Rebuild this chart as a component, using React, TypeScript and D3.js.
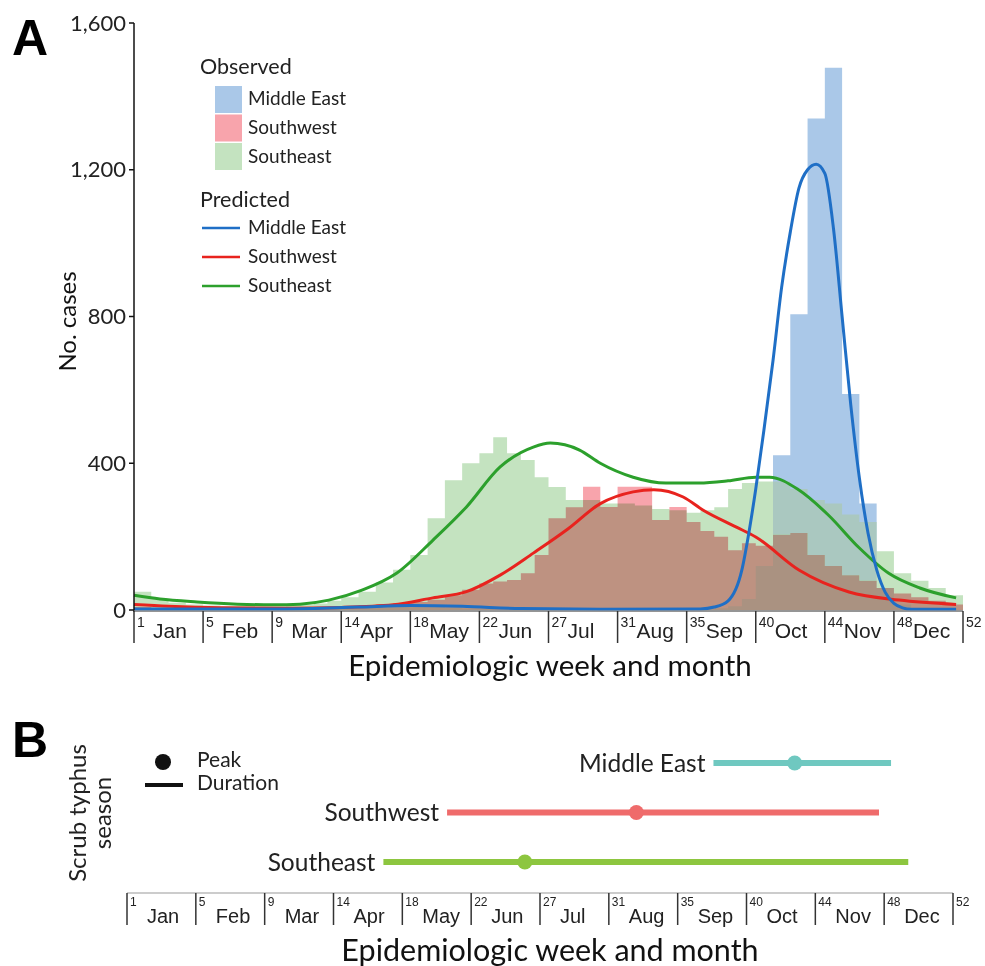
import { useEffect, useRef } from 'react';
import * as d3 from 'd3';

// month start weeks used as ticks (evenly spaced on the axis)
const monthWeeks = [1, 5, 9, 14, 18, 22, 27, 31, 35, 40, 44, 48, 52];
const monthNames = ['Jan', 'Feb', 'Mar', 'Apr', 'May', 'Jun', 'Jul', 'Aug', 'Sep', 'Oct', 'Nov', 'Dec'];
const yTicks = [0, 400, 800, 1200, 1600];
const regions = ['Middle East', 'Southwest', 'Southeast'];

// observed weekly cases, weeks 1..51
const obsMiddleEast = [
    2, 2, 2, 2, 2, 2, 2, 2, 2, 2, 3, 3, 4, 5, 6, 8, 9, 9, 8, 6, 4, 3, 2, 2, 2,
    2, 2, 2, 2, 2, 2, 2, 2, 3, 3, 4, 5, 10, 30, 120, 422, 806, 1340, 1478, 589,
    290, 60, 15, 5, 2, 1,
];
const obsSouthwest = [
    8, 6, 5, 5, 4, 4, 4, 4, 5, 5, 6, 7, 8, 10, 12, 15, 18, 22, 28, 40, 55, 72,
    78, 82, 100, 150, 250, 280, 336, 281, 336, 336, 245, 281, 240, 215, 200, 163,
    182, 175, 205, 210, 150, 120, 95, 80, 60, 45, 35, 25, 15,
];
const obsSoutheast = [
    50, 30, 20, 15, 12, 10, 10, 10, 10, 12, 14, 18, 25, 35, 50, 75, 110, 150,
    250, 354, 400, 427, 471, 427, 409, 362, 335, 300, 300, 290, 290, 285, 275,
    272, 265, 272, 280, 330, 346, 350, 350, 330, 300, 290, 260, 240, 160, 100,
    80, 60, 40,
];

// predicted curves, read as (week, cases) points
const predMEWeeks = [1, 10, 15, 18, 21, 25, 30, 36, 37, 38, 39, 39.5, 40, 40.5, 41, 41.5, 42, 42.5, 43, 43.5, 44, 44.5, 45, 45.5, 46, 46.5, 47, 47.5, 48, 48.5, 49, 51.6];
const predMEValues = [3, 3, 8, 12, 10, 4, 2, 3, 8, 25, 110, 210, 330, 500, 680, 880, 1030, 1150, 1200, 1215, 1190, 1040, 800, 560, 360, 210, 110, 48, 18, 6, 2, 2];
const predSWWeeks = [1, 3, 6, 10, 14, 17, 19.3, 21.25, 23.5, 25.9, 28.1, 30, 31.9, 33.1, 34.8, 36.2, 38.6, 40, 42.5, 45.4, 48.3, 51.6];
const predSWValues = [15, 10, 6, 5, 7, 14, 33, 50, 95, 155, 220, 290, 322, 328, 308, 272, 226, 199, 109, 49, 27, 15];
const predSEWeeks = [1, 2.5, 4.65, 7, 9.07, 11, 13.1, 15.2, 17.2, 19.3, 21.25, 23.5, 25.9, 27.1, 28.8, 30, 31.9, 33.8, 35.9, 38, 40, 40.8, 42.5, 44.2, 46, 47.7, 49.5, 51.6];
const predSEValues = [40, 30, 22, 16, 14, 16, 27, 54, 100, 190, 281, 390, 444, 455, 436, 400, 362, 346, 346, 352, 362, 362, 327, 259, 169, 100, 60, 33];

// season: start week, peak week, end week
const seasonStart = [37.6, 20.6, 16.9];
const seasonPeak = [42.8, 32.6, 25.9];
const seasonEnd = [48.4, 47.7, 49.4];

const barColors = ['#aac8e8', '#f8a4ac', '#c4e3c0'];
const barBlend = ['darken', 'multiply', 'multiply'];
const lineColors = ['#1f6fc6', '#e8231e', '#2ca02c'];
const seasonColors = ['#6fc8c0', '#ef6b6b', '#8dc63f'];

const W = 985;
const H = 966;
const A = { left: 134, right: 963, top: 23, bottom: 610 };
const B = { left: 127, right: 953, axisY: 893 };
const sans = 'Lato, "Open Sans", sans-serif';
const arial = '"Liberation Sans", Arial, sans-serif';

const App = () => {
    const svgRef = useRef<SVGSVGElement>(null);

    useEffect(() => {
        const svg = d3.select(svgRef.current);
        svg.selectAll('*').remove();

        const stepA = (A.right - A.left) / 12;
        const xA = d3
            .scaleLinear()
            .domain(monthWeeks)
            .range(monthWeeks.map((_d, i) => A.left + i * stepA));
        const y = d3.scaleLinear().domain([0, 1600]).range([A.bottom, A.top]);

        // ---- Panel A ----
        svg.append('text')
            .attr('x', 12)
            .attr('y', 55)
            .attr('font-family', arial)
            .attr('font-weight', 'bold')
            .attr('font-size', 50)
            .text('A');

        // weekly bars as one stepped area per region (no seams between bars)
        const obs = [obsMiddleEast, obsSouthwest, obsSoutheast];
        const bars = svg.append('g').style('isolation', 'isolate');
        const stepArea = d3
            .area<number>()
            .x((_d, i) => xA(i + 1))
            .y0(y(0))
            .y1(d => y(d))
            .curve(d3.curveStepAfter);
        [2, 1, 0].forEach(si => {
            const series = obs[si];
            bars.append('path')
                .attr('d', stepArea([...series, series[series.length - 1]]))
                .attr('fill', barColors[si])
                .style('mix-blend-mode', barBlend[si]);
        });

        // x axis line
        svg.append('line')
            .attr('x1', A.left)
            .attr('x2', A.right)
            .attr('y1', A.bottom + 1)
            .attr('y2', A.bottom + 1)
            .attr('stroke', '#222')
            .attr('stroke-width', 1);

        const preds = [
            { w: predMEWeeks, v: predMEValues },
            { w: predSWWeeks, v: predSWValues },
            { w: predSEWeeks, v: predSEValues },
        ];
        const line = d3
            .line<[number, number]>()
            .x(d => xA(d[0]))
            .y(d => y(d[1]))
            .curve(d3.curveMonotoneX);
        // draw green, red, then blue on top
        [2, 1, 0].forEach(si => {
            const pts = preds[si].w.map((w, i) => [w, preds[si].v[i]] as [number, number]);
            svg.append('path')
                .attr('d', line(pts))
                .attr('fill', 'none')
                .attr('stroke', lineColors[si])
                .attr('stroke-width', 3);
        });

        // y axis
        const yAxis = svg.append('g');
        yAxis.append('line')
            .attr('x1', A.left)
            .attr('x2', A.left)
            .attr('y1', A.top)
            .attr('y2', A.bottom + 2)
            .attr('stroke', '#111')
            .attr('stroke-width', 1.5);
        yTicks.forEach(t => {
            yAxis.append('line')
                .attr('x1', A.left - 5)
                .attr('x2', A.left)
                .attr('y1', y(t))
                .attr('y2', y(t))
                .attr('stroke', '#111')
                .attr('stroke-width', 1.5);
            yAxis.append('text')
                .attr('x', A.left - 8)
                .attr('y', y(t))
                .attr('dy', '0.35em')
                .attr('text-anchor', 'end')
                .attr('font-family', sans)
                .attr('font-size', 22)
                .attr('fill', '#222')
                .text(d3.format(',')(t));
        });

        const drawWeekAxis = (
            x: d3.ScaleLinear<number, number>,
            axisY: number,
            tickLen: number,
            numSize: number,
            monSize: number,
            numDy: number,
            monDy: number,
            monDx: number
        ) => {
            const g = svg.append('g');
            g.append('line')
                .attr('x1', x(1))
                .attr('x2', x(52))
                .attr('y1', axisY)
                .attr('y2', axisY)
                .attr('stroke', '#999')
                .attr('stroke-width', 1);
            monthWeeks.forEach((w, i) => {
                g.append('line')
                    .attr('x1', x(w))
                    .attr('x2', x(w))
                    .attr('y1', axisY)
                    .attr('y2', axisY + tickLen)
                    .attr('stroke', '#333')
                    .attr('stroke-width', 1.5);
                g.append('text')
                    .attr('x', x(w) + 3)
                    .attr('y', axisY + numDy)
                    .attr('font-family', arial)
                    .attr('font-size', numSize)
                    .attr('fill', '#222')
                    .text(w);
                if (i < 12) {
                    g.append('text')
                        .attr('x', x(w) + monDx)
                        .attr('y', axisY + monDy)
                        .attr('font-family', arial)
                        .attr('font-size', monSize)
                        .attr('fill', '#222')
                        .text(monthNames[i]);
                }
            });
        };

        drawWeekAxis(xA, A.bottom + 1, 32, 14, 21, 16, 27, 19);

        svg.append('text')
            .attr('x', 550)
            .attr('y', 676)
            .attr('text-anchor', 'middle')
            .attr('font-family', sans)
            .attr('font-size', 29.5)
            .attr('fill', '#111')
            .text('Epidemiologic week and month');

        svg.append('text')
            .attr('transform', `translate(76, ${(A.top + A.bottom) / 2 + 5}) rotate(-90)`)
            .attr('text-anchor', 'middle')
            .attr('font-family', sans)
            .attr('font-size', 24)
            .attr('fill', '#111')
            .text('No. cases');

        // legend A
        const leg = svg.append('g').attr('font-family', sans).attr('fill', '#222');
        leg.append('text').attr('x', 200).attr('y', 74).attr('font-size', 21.5).text('Observed');
        regions.forEach((r, i) => {
            leg.append('rect')
                .attr('x', 215)
                .attr('y', 86 + i * 28.5)
                .attr('width', 27)
                .attr('height', 27)
                .attr('fill', barColors[i]);
            leg.append('text')
                .attr('x', 248)
                .attr('y', 105 + i * 29)
                .attr('font-size', 19)
                .text(r);
        });
        leg.append('text').attr('x', 200).attr('y', 207).attr('font-size', 21.5).text('Predicted');
        regions.forEach((r, i) => {
            leg.append('line')
                .attr('x1', 202)
                .attr('x2', 240)
                .attr('y1', 228 + i * 29)
                .attr('y2', 228 + i * 29)
                .attr('stroke', lineColors[i])
                .attr('stroke-width', 2.5);
            leg.append('text')
                .attr('x', 248)
                .attr('y', 234 + i * 29)
                .attr('font-size', 19)
                .text(r);
        });

        // ---- Panel B ----
        const stepB = (B.right - B.left) / 12;
        const xB = d3
            .scaleLinear()
            .domain(monthWeeks)
            .range(monthWeeks.map((_d, i) => B.left + i * stepB));
        const row = d3.scalePoint().domain(regions).range([763, 862]);

        svg.append('text')
            .attr('x', 12)
            .attr('y', 757)
            .attr('font-family', arial)
            .attr('font-weight', 'bold')
            .attr('font-size', 50)
            .text('B');

        regions.forEach((r, i) => {
            const yy = row(r) ?? 0;
            svg.append('line')
                .attr('x1', xB(seasonStart[i]))
                .attr('x2', xB(seasonEnd[i]))
                .attr('y1', yy)
                .attr('y2', yy)
                .attr('stroke', seasonColors[i])
                .attr('stroke-width', 6);
            svg.append('circle')
                .attr('cx', xB(seasonPeak[i]))
                .attr('cy', yy)
                .attr('r', 7.5)
                .attr('fill', seasonColors[i]);
            svg.append('text')
                .attr('x', xB(seasonStart[i]) - 8)
                .attr('y', yy)
                .attr('dy', '0.35em')
                .attr('text-anchor', 'end')
                .attr('font-family', sans)
                .attr('font-size', 24.5)
                .attr('fill', '#222')
                .text(r);
        });

        // legend B
        svg.append('circle').attr('cx', 163).attr('cy', 762).attr('r', 8).attr('fill', '#111');
        svg.append('line')
            .attr('x1', 145)
            .attr('x2', 183)
            .attr('y1', 785)
            .attr('y2', 785)
            .attr('stroke', '#111')
            .attr('stroke-width', 4);
        svg.append('text')
            .attr('x', 197)
            .attr('y', 767)
            .attr('font-family', sans)
            .attr('font-size', 21)
            .attr('fill', '#222')
            .text('Peak');
        svg.append('text')
            .attr('x', 197)
            .attr('y', 790)
            .attr('font-family', sans)
            .attr('font-size', 21)
            .attr('fill', '#222')
            .text('Duration');

        svg.append('text')
            .attr('transform', 'translate(86, 813) rotate(-90)')
            .attr('text-anchor', 'middle')
            .attr('font-family', sans)
            .attr('font-size', 24)
            .attr('fill', '#222')
            .text('Scrub typhus');
        svg.append('text')
            .attr('transform', 'translate(111, 813) rotate(-90)')
            .attr('text-anchor', 'middle')
            .attr('font-family', sans)
            .attr('font-size', 24)
            .attr('fill', '#222')
            .text('season');

        drawWeekAxis(xB, B.axisY, 32, 12, 20, 13, 30, 20);

        svg.append('text')
            .attr('x', 550)
            .attr('y', 961)
            .attr('text-anchor', 'middle')
            .attr('font-family', sans)
            .attr('font-size', 30.5)
            .attr('fill', '#111')
            .text('Epidemiologic week and month');
    }, []);

    return (
        <div style={{ position: 'absolute', left: 0, top: 0, background: '#fff' }}>
            <svg ref={svgRef} width={W} height={H} style={{ display: 'block' }}></svg>
        </div>
    );
};

export default App;
